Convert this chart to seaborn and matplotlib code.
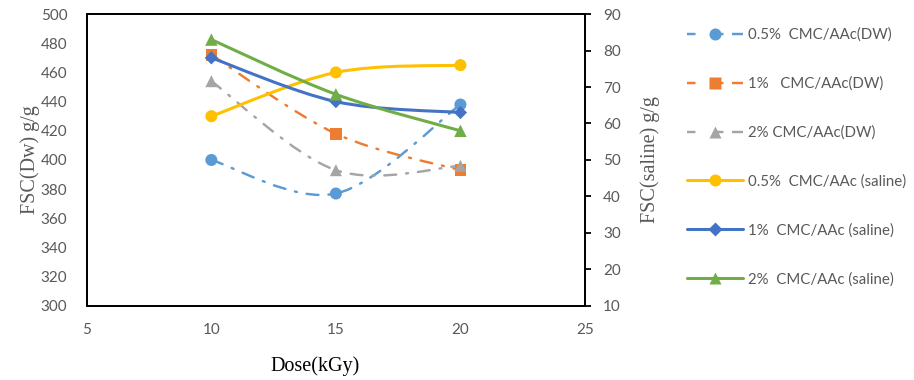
import numpy as np
import seaborn as sns
import matplotlib.pyplot as plt
from matplotlib.path import Path
from matplotlib.patches import PathPatch
from matplotlib.lines import Line2D

# values
dose = [10, 15, 20]
dw_05 = [400, 377, 438]
dw_1 = [472, 418, 393]
dw_2 = [454, 393, 396]
sal_05 = [62, 74, 76]
sal_1 = [78, 66, 63]
sal_2 = [83, 68, 58]

labels = ['0.5%  CMC/AAc(DW)', '1%   CMC/AAc(DW)', '2% CMC/AAc(DW)',
          '0.5%  CMC/AAc (saline)', '1%  CMC/AAc (saline)', '2%  CMC/AAc (saline)']
colors = ['#5B9BD5', '#ED7D31', '#A5A5A5', '#FFC000', '#4472C4', '#70AD47']
markers = ['o', 's', '^', 'o', 'D', '^']
sizes = [75, 70, 75, 75, 45, 80]

sns.set_style('white')
plt.rcParams['font.family'] = ['Lato', 'DejaVu Sans']

DASHDOT = (0, (4.9, 4.1, 0.8, 4.1))


def smooth_path(x, y):
    # excel-like smoothed line (catmull-rom as cubic bezier)
    pts = np.column_stack([x, y]).astype(float)
    ext = np.vstack([pts[0], pts, pts[-1]])
    verts = [pts[0]]
    codes = [Path.MOVETO]
    for i in range(len(pts) - 1):
        p0, p1, p2, p3 = ext[i], ext[i + 1], ext[i + 2], ext[i + 3]
        verts += [p1 + (p2 - p0) / 6, p2 - (p3 - p1) / 6, p2]
        codes += [Path.CURVE4] * 3
    return Path(verts, codes)


def draw_series(ax, y, color, marker, size, ls, lw):
    ax.add_patch(PathPatch(smooth_path(dose, y), facecolor='none', edgecolor=color,
                           lw=lw, linestyle=ls, capstyle='round', zorder=2))
    sns.scatterplot(x=dose, y=y, marker=marker, s=size, color=color,
                    edgecolor='none', ax=ax, zorder=3, legend=False)


fig = plt.figure(figsize=(9.14, 3.8), dpi=100)
ax = fig.add_axes([0.095, 0.195, 0.545, 0.768])
ax2 = ax.twinx()

for y, c, m, s in zip([dw_05, dw_1, dw_2], colors[:3], markers[:3], sizes[:3]):
    draw_series(ax, y, c, m, s, DASHDOT, 1.75)
for y, c, m, s in zip([sal_05, sal_1, sal_2], colors[3:], markers[3:], sizes[3:]):
    draw_series(ax2, y, c, m, s, '-', 2.2)

ax.set_xlim(5, 25)
ax.set_xticks([5, 10, 15, 20, 25])
ax.set_ylim(300, 500)
ax.set_yticks(range(300, 501, 20))
ax2.set_ylim(10, 90)
ax2.set_yticks(range(10, 91, 10))

for a in (ax, ax2):
    for sp in a.spines.values():
        sp.set_visible(True)
        sp.set_color('black')
        sp.set_linewidth(1.3)

ax.tick_params(axis='y', length=0, pad=14, labelsize=11, labelcolor='#595959')
ax.tick_params(axis='x', length=0, pad=12, labelsize=11, labelcolor='#595959')
ax2.tick_params(axis='y', right=True, length=4, width=1.3, direction='out',
                color='black', pad=9, labelsize=11, labelcolor='#595959')

ax.set_xlabel('Dose(kGy)', family='Liberation Serif', fontsize=14.5, color='black')
ax.xaxis.set_label_coords(0.458, -0.172)
ax.set_ylabel('FSC(Dw) g/g', family='Liberation Serif', fontsize=14.5, color='#595959')
ax.yaxis.set_label_coords(-0.094, 0.5)
ax2.set_ylabel('FSC(saline) g/g', family='Liberation Serif', fontsize=14.5, color='#595959')
ax2.yaxis.set_label_coords(1.112, 0.5)

handles = []
for i in range(6):
    ls = (0, (3.5, 8, 3.5)) if i < 3 else '-'
    lw = 1.75 if i < 3 else 2.2
    handles.append(Line2D([0], [0], color=colors[i], lw=lw, linestyle=ls,
                          marker=markers[i], markersize=np.sqrt(sizes[i]),
                          markeredgecolor='none'))

leg = fig.legend(handles, labels, loc='upper left', bbox_to_anchor=(0.752, 0.927),
                 frameon=False, fontsize=10.8, labelspacing=2.3, handlelength=3.7,
                 handletextpad=0.35, borderpad=0, borderaxespad=0)
for t in leg.get_texts():
    t.set_color('#595959')

fig.savefig('out.png', dpi=100)
